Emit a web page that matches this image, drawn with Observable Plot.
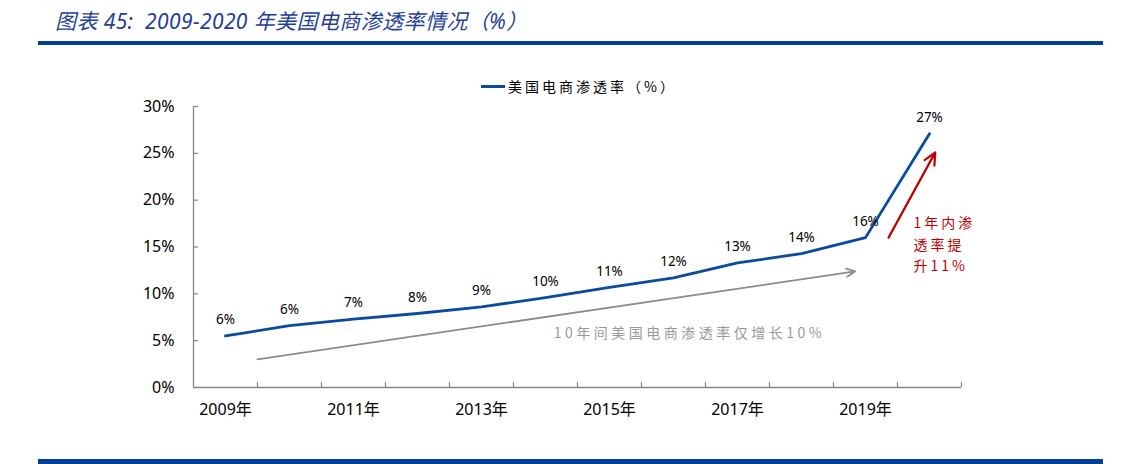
<!DOCTYPE html>
<html><head><meta charset="utf-8">
<script src="https://cdn.jsdelivr.net/npm/d3@7"></script>
<script src="https://cdn.jsdelivr.net/npm/@observablehq/plot@0.6"></script>
<style>
html,body{margin:0;padding:0;background:#fff;}
#wrap{position:relative;width:1140px;height:464px;overflow:hidden;font-family:"Noto Sans","Noto Sans CJK SC",sans-serif;}
#title{position:absolute;left:55px;top:5px;font-size:21px;font-style:italic;color:#1f3f99;white-space:nowrap;letter-spacing:0.4px;}
.rule{position:absolute;left:38px;width:1065px;height:3.5px;background:#003f94;}
#legend{position:absolute;left:481px;top:76px;font-size:14px;color:#000;white-space:nowrap;display:flex;align-items:center;font-family:"Noto Sans CJK SC",sans-serif;letter-spacing:3px;}
#legend .sw{display:inline-block;width:24px;height:3px;background:#0a4aa0;margin-right:3px;}
#chart{position:absolute;left:0;top:0;}
</style></head>
<body>
<div id="wrap">
  <div id="title">图表 45:&nbsp; 2009-2020 年美国电商渗透率情况（%）</div>
  <div class="rule" style="top:41px"></div>
  <div class="rule" style="top:458.5px;height:6px"></div>
  <div id="legend"><span class="sw"></span>美国电商渗透率（%）</div>
  <div id="chart"></div>
</div>
<script>
const years = [2009,2010,2011,2012,2013,2014,2015,2016,2017,2018,2019,2020];
const rates = [5.5,6.6,7.3,7.9,8.6,9.6,10.7,11.7,13.3,14.3,16.0,27.1];
const labels = ["6%","6%","7%","8%","9%","10%","11%","12%","13%","14%","16%","27%"];
const xLabelYears = [2009,2011,2013,2015,2017,2019];
const yTicks = [0,5,10,15,20,25,30];
const bandEdges = [2009.5,2010.5,2011.5,2012.5,2013.5,2014.5,2015.5,2016.5,2017.5,2018.5,2019.5,2020.5];
const grayArrow = [{x1:2009.5,y1:3.0,x2:2018.84,y2:12.4}];
const redArrow = [{x1:2019.36,y1:16.0,x2:2020.09,y2:25.1}];
const grayNote = [{x:2016.25,y:5.8,text:"10年间美国电商渗透率仅增长10%"}];
const redNote = [
  {x:2019.75,y:17.5,text:"1年内渗"},
  {x:2019.75,y:15.2,text:"透率提"},
  {x:2019.75,y:12.9,text:"升11%"}
];

const data = years.map((y,i)=>({year:y, rate:rates[i], label:labels[i]}));
const xMin = 2008.5, xMax = 2020.5;
const axisColor = "#868686";

const chart = Plot.plot({
  width:1140, height:464,
  marginLeft:193, marginRight:179, marginTop:106, marginBottom:77,
  style:{fontFamily:'"Noto Sans","Noto Sans CJK SC",sans-serif', background:"transparent", overflow:"visible"},
  x:{domain:[xMin,xMax]},
  y:{domain:[0,30]},
  marks:[
    Plot.axisY({ticks:yTicks, tickFormat:d=>d+"%", tickSize:0, tickPadding:19, fontSize:16, color:"#000"}),
    Plot.axisX({ticks:xLabelYears, tickFormat:d=>d+"年", tickSize:0, tickPadding:16, fontSize:16, color:"#000"}),
    Plot.ruleX([xMin], {y1:0, y2:30, stroke:axisColor, strokeWidth:1.3}),
    Plot.ruleY([0], {x1:xMin, x2:xMax, stroke:axisColor, strokeWidth:1.3}),
    Plot.ruleX(bandEdges, {y1:0, y2:0.55, stroke:axisColor, strokeWidth:1.2}),
    Plot.ruleY(yTicks.filter(d=>d>0), {x1:xMin, x2:xMin+0.08, stroke:axisColor, strokeWidth:1.2}),
    Plot.arrow(grayArrow, {x1:"x1",y1:"y1",x2:"x2",y2:"y2", stroke:"#8c8c8c", strokeWidth:1.8, headLength:8, headAngle:50}),
    Plot.arrow(redArrow, {x1:"x1",y1:"y1",x2:"x2",y2:"y2", stroke:"#c00000", strokeWidth:2.2, headLength:9, headAngle:50}),
    Plot.line(data, {x:"year", y:"rate", stroke:"#0a4aa0", strokeWidth:2.8}),
    Plot.text(data, {x:"year", y:"rate", text:"label", dy:-16, fontSize:13.5, fill:"#000"}),
    Plot.text(grayNote, {x:"x", y:"y", text:"text", fill:"#999999", fontSize:14, fontFamily:'"Noto Sans CJK SC",sans-serif'}),
    Plot.text(redNote, {x:"x", y:"y", text:"text", fill:"#c00000", fontSize:14, textAnchor:"start", fontFamily:'"Noto Sans CJK SC",sans-serif'})
  ]
});
const textGroups = chart.querySelectorAll('g[aria-label="text"]');
if (textGroups.length >= 3) {
  textGroups[1].style.letterSpacing = "3.5px";
  textGroups[2].style.letterSpacing = "3px";
}
document.getElementById("chart").appendChild(chart);
</script>
</body></html>
